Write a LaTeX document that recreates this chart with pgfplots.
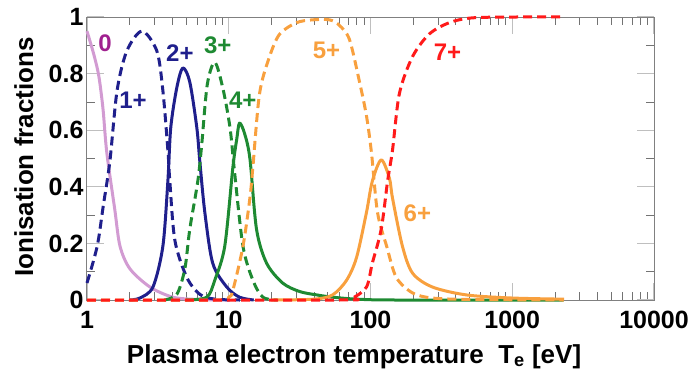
\documentclass[border=0pt]{standalone}
\usepackage{fontspec}
\setmainfont{Liberation Sans}
\usepackage{pgfplots}
\pgfplotsset{compat=1.18}
\definecolor{cZero}{HTML}{D29BD2}
\definecolor{cZeroL}{HTML}{A0208F}
\definecolor{cNavy}{HTML}{1F1F8C}
\definecolor{cGreen}{HTML}{1E8A32}
\definecolor{cOrange}{HTML}{F8A03E}
\definecolor{cRed}{HTML}{FF1A1A}
\begin{document}
\begin{tikzpicture}[lbl/.style={font=\fontsize{24}{28}\selectfont\bfseries}]
\path[use as bounding box] (-87pt,-73pt) rectangle (604pt,300pt);
\begin{axis}[
  at={(0,0)}, anchor=south west,
  scale only axis, width=567pt, height=283pt,
  xmode=log, xmin=1, xmax=10000, ymin=0, ymax=1,
  xtick={1,10,100,1000,10000}, xticklabels={1,10,100,1000,10000},
  ytick={0,0.2,0.4,0.6,0.8,1}, yticklabels={0,0.2,0.4,0.6,0.8,1},
  minor ytick={0.1,0.3,0.5,0.7,0.9},
  tick align=inside,
  major tick length=17pt, minor tick length=8pt,
  major tick style={black!25, line width=1.2pt},
  minor tick style={black!55, line width=0.8pt},
  axis line style={black!50, line width=1pt},
  /pgf/number format/assume math mode=true,
  tick label style={font=\fontsize{25}{28}\selectfont\bfseries},
  xticklabel style={yshift=-8pt},
  label style={font=\fontsize{26}{30}\selectfont\bfseries},
  xlabel={Plasma electron temperature \ T\textsubscript{e} [eV]},
  ylabel={Ionisation fractions},
  xlabel style={at={(axis description cs:0.471,-0.2226)}, anchor=base},
  ylabel style={at={(axis description cs:-0.0952,0.505)}, anchor=base},
  clip=false,
  every axis plot/.append style={line width=3pt, line join=round},
  dashes/.style={dash pattern=on 9pt off 5pt},
]
% 0
\addplot[cZero, smooth] coordinates {(1,0.95) (1.10,0.88) (1.18,0.82) (1.23,0.77) (1.30,0.67) (1.38,0.52) (1.57,0.32) (1.71,0.19) (2.01,0.11) (2.78,0.046) (4.03,0.01) (6,0.002) (10,0)};
% 1+
\addplot[cNavy, smooth, dashes] coordinates {(1,0.06) (1.18,0.19) (1.30,0.33) (1.45,0.49) (1.63,0.74) (1.91,0.88) (2.44,0.95) (3.11,0.88) (3.43,0.74) (3.72,0.53) (3.84,0.42) (4.17,0.21) (5.06,0.08) (6.25,0.02) (8,0.003) (12,0)};
% 2+
\addplot[cNavy, smooth] coordinates {(2.0,0) (2.36,0.007) (2.92,0.046) (3.43,0.19) (3.72,0.42) (3.90,0.61) (4.30,0.75) (4.74,0.82) (5.31,0.77) (5.95,0.61) (6.25,0.49) (6.78,0.31) (7.71,0.13) (9.68,0.046) (11.9,0.01) (15,0)};
% 3+
\addplot[cGreen, smooth, dashes] coordinates {(3.5,0) (4.30,0.02) (4.90,0.11) (5.31,0.25) (6.05,0.42) (6.45,0.55) (7.05,0.76) (7.97,0.84) (9.07,0.75) (10.2,0.61) (11.0,0.45) (12.6,0.19) (14.8,0.07) (17.4,0.01) (22,0)};
% 4+
\addplot[cGreen, smooth] coordinates {(5,0) (7.0,0.01) (7.97,0.07) (9.37,0.19) (10.7,0.47) (11.4,0.57) (11.9,0.625) (12.9,0.59) (14.1,0.5) (15.7,0.25) (18.5,0.13) (24,0.06) (31.6,0.03) (41.7,0.018) (54,0.01) (80,0.003) (150,0) (2300,0)};
% 5+
\addplot[cOrange, smooth, dashes] coordinates {(1,0) (8,0) (10,0.01) (10.7,0.035) (12.6,0.19) (14.1,0.36) (14.8,0.47) (16.5,0.73) (19.4,0.86) (22.9,0.94) (30.1,0.98) (39,0.99) (51.4,0.99) (60.5,0.97) (71.1,0.92) (83.7,0.77) (93.7,0.65) (101.6,0.52) (112,0.31) (130,0.19) (152,0.08) (198,0.025) (273,0.007) (500,0.002) (2300,0)};
% 6+
\addplot[cOrange, smooth] coordinates {(20,0) (40,0.003) (54,0.018) (67.8,0.07) (79.7,0.15) (93.7,0.31) (103,0.42) (119,0.495) (136,0.43) (143,0.36) (168,0.19) (198,0.095) (273,0.046) (474,0.018) (1000,0.007) (2323,0.003)};
% 7+
\addplot[cRed, smooth, dashes] coordinates {(1,0) (60,0) (74.7,0.007) (93.7,0.046) (103,0.13) (119,0.25) (132,0.42) (143,0.53) (160,0.73) (198,0.86) (260,0.94) (360,0.98) (523,0.997) (1067,1.0) (2323,1.0)};
\node[lbl, text=cZeroL] at (axis cs:1.34,0.908) {0};
\node[lbl, text=cNavy] at (axis cs:2.11,0.707) {1+};
\node[lbl, text=cNavy] at (axis cs:4.52,0.873) {2+};
\node[lbl, text=cGreen] at (axis cs:8.37,0.90) {3+};
\node[lbl, text=cGreen] at (axis cs:12.55,0.707) {4+};
\node[lbl, text=cOrange] at (axis cs:49,0.883) {5+};
\node[lbl, text=cRed] at (axis cs:349,0.876) {7+};
\node[lbl, text=cOrange] at (axis cs:214,0.307) {6+};
\end{axis}
\end{tikzpicture}
\end{document}
